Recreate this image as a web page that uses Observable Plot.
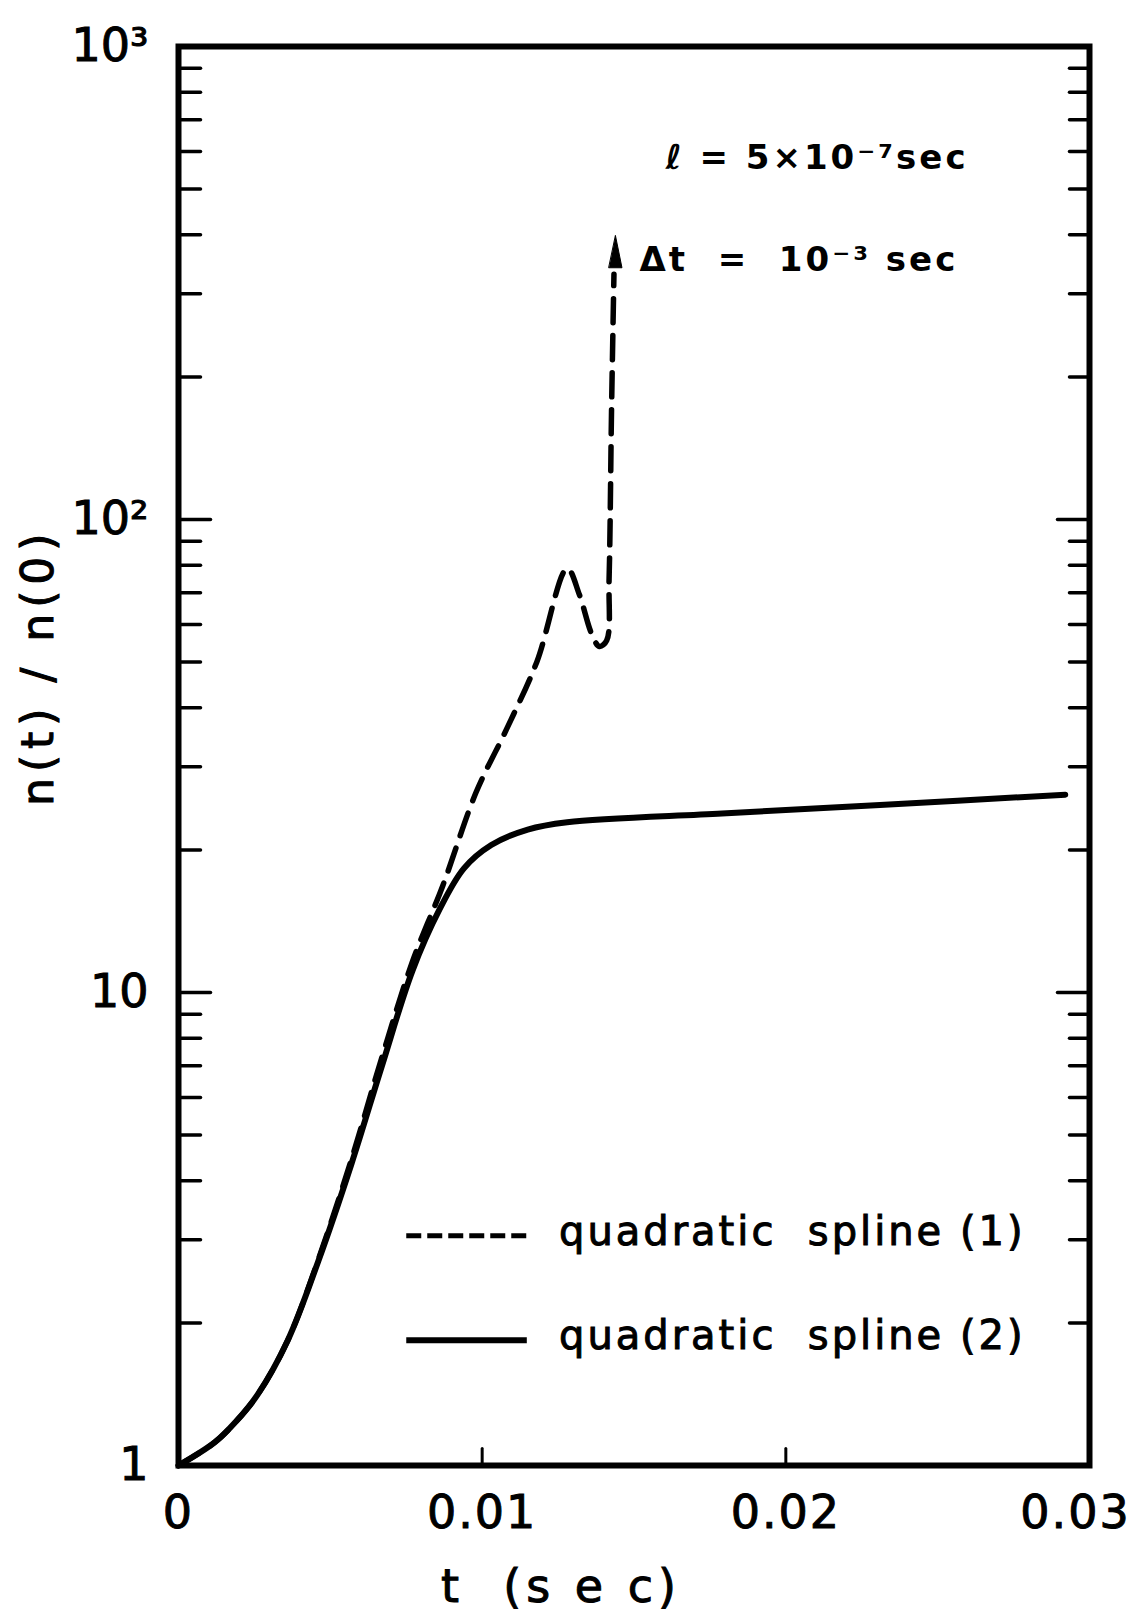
<!DOCTYPE html>
<html><head><meta charset="utf-8">
<script src="https://cdn.jsdelivr.net/npm/d3@7"></script>
<script src="https://cdn.jsdelivr.net/npm/@observablehq/plot@0.6"></script>
<style>
html,body{margin:0;padding:0;background:#fff;}
svg{display:block;}
</style></head><body><div id="chart"></div>
<script>
// ---- data ----
const spline1T = [0, 0.0012, 0.0019, 0.0026, 0.0036, 0.0046, 0.0057, 0.0067, 0.0077, 0.0087, 0.0098, 0.0108, 0.0118, 0.0128, 0.0132, 0.0136, 0.01386, 0.0141, 0.01418, 0.01426, 0.01434];
const spline1N = [1, 1.12, 1.24, 1.41, 1.84, 2.72, 4.45, 7.3, 11.6, 16.8, 26.5, 36, 50, 78.8, 69.4, 57.4, 53.9, 55.5, 75, 170, 330];
const spline2T = [0, 0.0012, 0.0019, 0.0026, 0.0036, 0.0046, 0.0057, 0.0067, 0.0077, 0.0086, 0.0094, 0.0103, 0.0115, 0.0128, 0.0179, 0.0231, 0.0292];
const spline2N = [1, 1.12, 1.24, 1.41, 1.84, 2.70, 4.35, 7.0, 11.1, 15.0, 18.3, 20.5, 22.1, 22.9, 23.9, 24.9, 26.2];
const arrowTip = {t: 0.01439, n: 398};

const xTicks = [0, 0.01, 0.02, 0.03];
const xTickLabels = ["0", "0.01", "0.02", "0.03"];
const xInnerTicks = [0.01, 0.02];
const yTicks = [1, 10, 100, 1000];
const yTickLabels = ["1", "10", "10²", "10³"];
const yMajorInner = [10, 100];
const yMinorTicks = [2,3,4,5,6,7,8,9, 20,30,40,50,60,70,80,90, 200,300,400,500,600,700,800,900];

const seriesNames = ["quadratic  spline (1)", "quadratic  spline (2)"];
const annotationTexts = ["ℓ = 5×10⁻⁷sec", "Δt  =  10⁻³ sec"];
const xLabel = "t  (s e c)";
const yLabel = "n(t) / n(0)";

// ---- build tables ----
const dashed = spline1T.map((t, i) => ({t, n: spline1N[i]}));
const solid = spline2T.map((t, i) => ({t, n: spline2N[i]}));
const legendDashed = [{name: seriesNames[0], t0: 0.0075, t1: 0.01147, n: 3.06}];
const legendSolid = [{name: seriesNames[1], t0: 0.0075, t1: 0.01147, n: 1.84}];
const annotations = [
  {text: annotationTexts[0], t: 0.01604, n: 580},
  {text: annotationTexts[1], t: 0.01518, n: 353}
];

const tickShape = {draw(ctx, l) { ctx.moveTo(0, 0); ctx.lineTo(0, -l); }};
const headShape = {draw(ctx, l) { ctx.moveTo(0, -l); ctx.lineTo(6.5, 0); ctx.lineTo(-6.5, 0); ctx.closePath(); }};

const plot = Plot.plot({
  width: 1142,
  height: 1621,
  marginLeft: 178,
  marginRight: 53,
  marginTop: 46,
  marginBottom: 156,
  style: {fontFamily: "DejaVu Sans", background: "#fff", color: "#000"},
  x: {domain: [0, 0.03]},
  y: {type: "log", domain: [1, 1000]},
  marks: [
    Plot.axisX({ticks: xTicks, tickFormat: d => xTickLabels[xTicks.indexOf(d)], tickSize: 0, tickPadding: 30, fontSize: 46, label: null}),
    Plot.axisY({ticks: yTicks, tickFormat: d => yTickLabels[yTicks.indexOf(d)], tickSize: 0, tickPadding: 30, fontSize: 46, label: null}),
    // inward ticks
    Plot.vector(yMinorTicks, {y: d => d, frameAnchor: "left", rotate: 90, length: 22, anchor: "start", shape: tickShape, stroke: "black", strokeWidth: 3.5}),
    Plot.vector(yMinorTicks, {y: d => d, frameAnchor: "right", rotate: -90, length: 20, anchor: "start", shape: tickShape, stroke: "black", strokeWidth: 3.5}),
    Plot.vector(yMajorInner, {y: d => d, frameAnchor: "left", rotate: 90, length: 32, anchor: "start", shape: tickShape, stroke: "black", strokeWidth: 3.5}),
    Plot.vector(yMajorInner, {y: d => d, frameAnchor: "right", rotate: -90, length: 32, anchor: "start", shape: tickShape, stroke: "black", strokeWidth: 3.5}),
    Plot.vector(xInnerTicks, {x: d => d, frameAnchor: "bottom", rotate: 0, length: 17, anchor: "start", shape: tickShape, stroke: "black", strokeWidth: 3}),
    Plot.frame({stroke: "black", strokeWidth: 6}),
    // curves
    Plot.line(solid, {x: "t", y: "n", curve: "catmull-rom", stroke: "black", strokeWidth: 6, strokeLinejoin: "round", strokeLinecap: "round"}),
    Plot.line(dashed, {x: "t", y: "n", curve: "catmull-rom", stroke: "black", strokeWidth: 5.5, strokeDasharray: "24,13", strokeLinecap: "round"}),
    Plot.vector([arrowTip], {x: "t", y: "n", anchor: "end", length: 32, shape: headShape, fill: "black", stroke: "black", strokeWidth: 1}),
    // annotations
    Plot.text(annotations, {x: "t", y: "n", text: "text", textAnchor: "start", fontSize: 34, fontWeight: "bold"}),
    // legend
    Plot.link(legendDashed, {x1: "t0", x2: "t1", y1: "n", y2: "n", stroke: "black", strokeWidth: 5, strokeDasharray: "15,6"}),
    Plot.link(legendSolid, {x1: "t0", x2: "t1", y1: "n", y2: "n", stroke: "black", strokeWidth: 6}),
    Plot.text(legendDashed, {x: d => 0.01253, y: "n", text: "name", textAnchor: "start", fontSize: 40, dy: -4}),
    Plot.text(legendSolid, {x: d => 0.01253, y: "n", text: "name", textAnchor: "start", fontSize: 40, dy: -4}),
    // axis titles
    Plot.text([yLabel], {text: d => d, frameAnchor: "left", dx: -140, dy: 50, rotate: -90, fontSize: 44}),
    Plot.text([xLabel], {text: d => d, frameAnchor: "bottom", dx: -73, dy: 136, fontSize: 46})
  ]
});
document.getElementById("chart").appendChild(plot);

// lettering adjustments: spacing and slightly heavier strokes like the hand lettering
d3.select(plot).selectAll("text").each(function() {
  const s = this.textContent;
  const heavy = () => { this.setAttribute("stroke", "black"); this.setAttribute("stroke-width", "1"); };
  if (s === yLabel) { this.setAttribute("letter-spacing", "6"); heavy(); }
  else if (s === xLabel) { this.setAttribute("letter-spacing", "5"); heavy(); }
  else if (seriesNames.includes(s)) { this.setAttribute("letter-spacing", "3"); heavy(); }
  else if (annotationTexts.includes(s)) this.setAttribute("letter-spacing", "3");
  else if (xTickLabels.includes(s)) {
    this.setAttribute("letter-spacing", "2"); heavy();
    if (s === "0.03") this.setAttribute("dx", "-14");
  }
  else if (yTickLabels.includes(s)) heavy();
});
</script>
</body></html>
